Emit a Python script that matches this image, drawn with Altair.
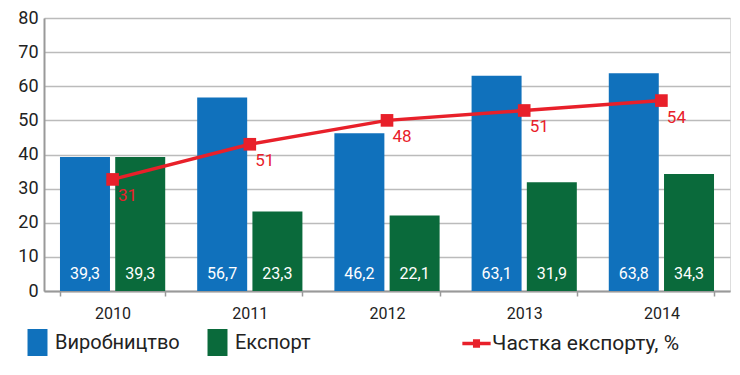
import altair as alt
import pandas as pd

years = ["2010", "2011", "2012", "2013", "2014"]
production = [39.3, 56.7, 46.2, 63.1, 63.8]
export = [39.3, 23.3, 22.1, 31.9, 34.3]
share_plot = [32.7, 43.0, 50.0, 52.9, 55.8]
share_label = ["31", "51", "48", "51", "54"]

S_PROD = "Виробництво"
S_EXP = "Експорт"
S_SHARE = "Частка експорту, %"

BLUE = "#1071BC"
GREEN = "#0A6A3B"
RED = "#E8202A"
FONT = "Roboto"

rows = []
for y, p, e in zip(years, production, export):
    rows.append({"year": y, "series": S_PROD, "value": p, "label": f"{p:.1f}".replace(".", ",")})
    rows.append({"year": y, "series": S_EXP, "value": e, "label": f"{e:.1f}".replace(".", ",")})
bars_df = pd.DataFrame(rows)
line_df = pd.DataFrame({"year": years, "share": share_plot, "lab": share_label, "series": [S_SHARE] * 5})

xscale = alt.Scale(domain=years, paddingInner=0.233, paddingOuter=0.1165)
xaxis = alt.Axis(labelAngle=0, labelFontSize=16, labelPadding=9, labelColor="#222",
                 tickBand="extent", tickSize=5, tickColor="#999", tickWidth=1.5,
                 domainColor="#999", domainWidth=2, grid=False, labelFont=FONT)
yscale = alt.Scale(domain=[0, 80])
yaxis = alt.Axis(values=list(range(0, 90, 10)), labelFontSize=18, labelPadding=6, tickSize=0,
                 labelOverlap=False, domainColor="#999", domainWidth=2,
                 gridColor="#BBBBBB", gridWidth=1.5, labelColor="#222", labelFont=FONT)
xenc = alt.X("year:N", scale=xscale, sort=years, title=None, axis=xaxis)
xoff = alt.XOffset("series:N", sort=[S_PROD, S_EXP],
                   scale=alt.Scale(domain=[S_PROD, S_EXP], paddingInner=0.095, paddingOuter=0))

bars = alt.Chart(bars_df).mark_bar().encode(
    x=xenc,
    xOffset=xoff,
    y=alt.Y("value:Q", scale=yscale, axis=yaxis, title=None),
    color=alt.Color("series:N", sort=[S_PROD, S_EXP],
                    scale=alt.Scale(domain=[S_PROD, S_EXP], range=[BLUE, GREEN]),
                    legend=alt.Legend(title=None, orient="none", direction="horizontal",
                                      legendX=-20, legendY=311, padding=0,
                                      symbolType="M-0.74,-1H0.74V1H-0.74Z", symbolSize=729,
                                      symbolStrokeWidth=0, symbolOpacity=1,
                                      labelFontSize=20, labelFont=FONT, labelColor="#222",
                                      labelOffset=4, columnPadding=24, labelLimit=300)),
)

bar_text = alt.Chart(bars_df).mark_text(color="white", fontSize=16, dy=-17, baseline="middle",
                                        font=FONT).encode(
    x=xenc,
    xOffset=xoff,
    y=alt.Y("zero:Q", scale=yscale, axis=yaxis, title=None),
    text="label:N",
).transform_calculate(zero="0")

line = alt.Chart(line_df).mark_line(strokeWidth=3.5).encode(
    x=xenc,
    y=alt.Y("share:Q", scale=yscale, axis=yaxis, title=None),
    stroke=alt.Stroke("series:N", scale=alt.Scale(domain=[S_SHARE], range=[RED]),
                      legend=alt.Legend(title=None, orient="none", legendX=418, legendY=311,
                                        padding=0,
                                        symbolType="M-1,-0.12H-0.25V-0.3H0.25V-0.12H1V0.12H0.25V0.3H-0.25V0.12H-1Z",
                                        symbolSize=800, symbolFillColor=RED, symbolStrokeWidth=0,
                                        labelFontSize=21, labelFont=FONT, labelColor="#222",
                                        labelOffset=1, labelLimit=300)),
)

pts = alt.Chart(line_df).mark_square(size=160, color=RED, opacity=1).encode(
    x=xenc,
    y=alt.Y("share:Q", scale=yscale, axis=yaxis, title=None),
)

line_text = alt.Chart(line_df).mark_text(color=RED, fontSize=17, dx=15, dy=17, font=FONT).encode(
    x=xenc,
    y=alt.Y("share:Q", scale=yscale, axis=yaxis, title=None),
    text="lab:N",
)

chart = alt.layer(bars, bar_text, line, pts, line_text).resolve_scale(
    color="independent"
).properties(
    width=686, height=273,
    autosize=alt.AutoSizeParams(type="none"),
    padding={"left": 36, "top": 10, "right": 2, "bottom": 76},
).configure_view(stroke=None).configure(font=FONT)

chart.save("out.html", embed_options={"renderer": "svg", "actions": False})
